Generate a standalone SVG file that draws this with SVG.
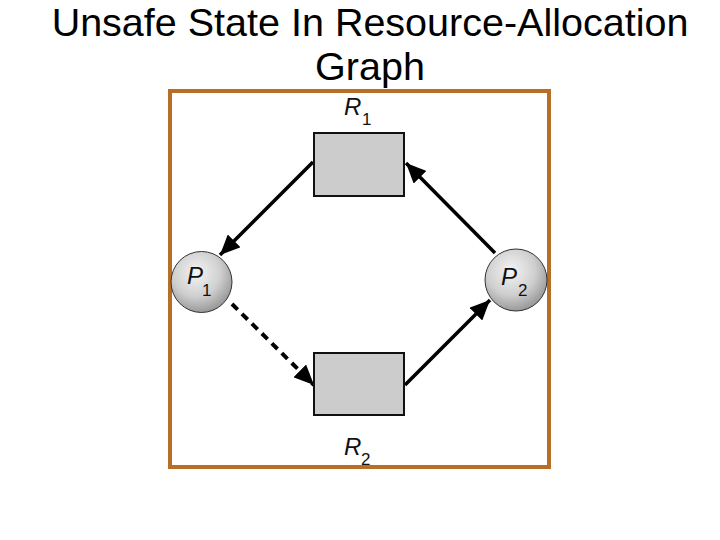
<svg xmlns="http://www.w3.org/2000/svg" width="720" height="540" viewBox="0 0 720 540">
<style>
.title{font-family:"Liberation Sans",Arial,sans-serif;font-size:39.5px;fill:#000;text-anchor:middle}
.lbl{font-family:"Liberation Sans",Arial,sans-serif;font-style:italic;font-size:24px;fill:#111}
.sub{font-family:"Liberation Sans",Arial,sans-serif;font-size:17px;fill:#111}
.res{fill:#cccccc;stroke:#111;stroke-width:2}
.proc{fill:url(#sph);stroke:#333;stroke-width:1}
.edge{stroke:#000;stroke-width:3.5;fill:none}
.dash{stroke-dasharray:8 6;stroke-width:4}
</style>
<defs>
<radialGradient id="sph" cx="0.42" cy="0.35" r="0.65">
<stop offset="0" stop-color="#f4f4f4"/>
<stop offset="0.6" stop-color="#cfcfcf"/>
<stop offset="1" stop-color="#9a9a9a"/>
</radialGradient>
<marker id="ah" markerUnits="userSpaceOnUse" markerWidth="22" markerHeight="18" refX="20" refY="9" orient="auto">
<path d="M0,0 L20,9 L0,18 Z" fill="#000"/>
</marker>
</defs>
<text class="title" x="370" y="36">Unsafe State In Resource-Allocation</text>
<text class="title" x="370" y="80">Graph</text>
<rect x="170" y="91" width="379" height="376" fill="none" stroke="#b86e27" stroke-width="4"/>
<g id="connectors">
<line class="edge" x1="313" y1="162" x2="220" y2="255" marker-end="url(#ah)"/>
<line class="edge" x1="495" y1="253" x2="406" y2="163" marker-end="url(#ah)"/>
<line class="edge dash" x1="232" y1="304" x2="314" y2="385" marker-end="url(#ah)"/>
<line class="edge" x1="405" y1="385" x2="490" y2="300" marker-end="url(#ah)"/>
</g>
<g id="R1">
<rect class="res" x="314" y="133" width="90" height="63"/>
<text class="lbl" x="344" y="115">R</text><text class="sub" x="362" y="125">1</text>
</g>
<g id="R2">
<rect class="res" x="314" y="353" width="90" height="62"/>
<text class="lbl" x="344" y="455">R</text><text class="sub" x="361" y="465">2</text>
</g>
<g id="P1">
<circle class="proc" cx="201.5" cy="282" r="30.5"/>
<text class="lbl" x="187" y="284">P</text><text class="sub" x="202" y="296">1</text>
</g>
<g id="P2">
<circle class="proc" cx="516" cy="280" r="31"/>
<text class="lbl" x="501" y="285">P</text><text class="sub" x="518" y="296">2</text>
</g>
</svg>
